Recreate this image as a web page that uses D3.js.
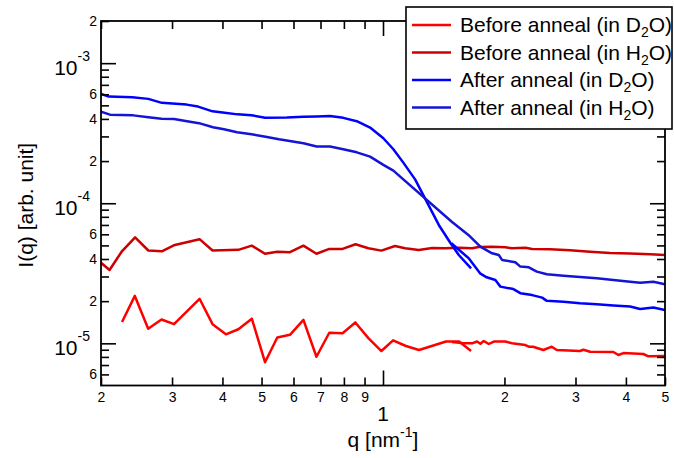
<!DOCTYPE html>
<html>
<head>
<meta charset="utf-8">
<script src="https://cdn.jsdelivr.net/npm/d3@7"></script>
<style>
  body { margin: 0; background: #fff; }
  text { font-family: "Liberation Sans", Arial, sans-serif; fill: #000; }
</style>
</head>
<body>
<div class="graphe"></div>
<script>
"use strict";

var larg = 674; // largeur du svg
var haut = 458; // hauteur du svg
var gauche = 101, droite = 665, haut_trace = 21, bas_trace = 385.5; // cadre du tracé

// donnees [q (nm-1), I(q)]
var avantD2O_bas = [[0.2255,1.42e-5],[0.2426,2.18e-5],[0.2618,1.27e-5],[0.2825,1.48e-5],[0.3034,1.37e-5],[0.351,2.08e-5],[0.378,1.37e-5],[0.408,1.16e-5],[0.438,1.26e-5],[0.473,1.50e-5],[0.510,7.33e-6],[0.547,1.10e-5],[0.588,1.15e-5],[0.635,1.47e-5],[0.684,8.02e-6],[0.736,1.19e-5],[0.794,1.18e-5],[0.854,1.41e-5],[0.920,1.09e-5],[0.991,8.81e-6],[1.059,1.05e-5],[1.140,9.57e-6],[1.228,8.96e-6],[1.327,9.60e-6],[1.433,1.03e-5],[1.544,1.03e-5],[1.653,8.81e-6]];
var avantD2O_haut = [[1.483,1.02e-5],[1.586,1.00e-5],[1.663,1.00e-5],[1.711,1.03e-5],[1.743,9.93e-6],[1.777,1.04e-5],[1.829,9.89e-6],[1.882,1.03e-5],[2.010,1.03e-5],[2.088,1.00e-5],[2.254,9.72e-6],[2.298,9.46e-6],[2.354,9.46e-6],[2.498,8.96e-6],[2.620,9.46e-6],[2.696,8.96e-6],[3.078,8.81e-6],[3.138,9.00e-6],[3.260,8.71e-6],[3.724,8.67e-6],[3.832,8.25e-6],[3.944,8.52e-6],[4.420,8.39e-6],[4.548,8.08e-6],[5.0,8.12e-6]];
var avantH2O = [[0.200,3.76e-5],[0.210,3.34e-5],[0.225,4.51e-5],[0.243,5.70e-5],[0.262,4.60e-5],[0.283,4.54e-5],[0.303,5.01e-5],[0.351,5.54e-5],[0.378,4.60e-5],[0.438,4.65e-5],[0.473,4.98e-5],[0.510,4.36e-5],[0.547,4.51e-5],[0.588,4.47e-5],[0.635,4.98e-5],[0.684,4.36e-5],[0.736,4.72e-5],[0.794,4.72e-5],[0.855,5.10e-5],[0.920,4.77e-5],[0.991,4.59e-5],[1.071,4.95e-5],[1.134,4.77e-5],[1.227,4.64e-5],[1.323,4.79e-5],[1.427,4.77e-5],[1.541,4.82e-5],[1.663,4.77e-5],[1.727,4.87e-5],[1.864,4.90e-5],[2.010,4.85e-5],[2.088,4.77e-5],[2.254,4.82e-5],[2.342,4.72e-5],[2.594,4.69e-5],[2.908,4.62e-5],[3.260,4.51e-5],[3.654,4.42e-5],[4.098,4.37e-5],[4.592,4.32e-5],[5.0,4.27e-5]];
var apresD2O_bas = [[0.200,6.04e-4],[0.209,5.77e-4],[0.239,5.70e-4],[0.262,5.56e-4],[0.283,5.21e-4],[0.326,5.06e-4],[0.348,4.90e-4],[0.378,4.53e-4],[0.405,4.42e-4],[0.436,4.31e-4],[0.472,4.25e-4],[0.510,4.08e-4],[0.578,4.09e-4],[0.635,4.14e-4],[0.685,4.16e-4],[0.739,4.20e-4],[0.797,4.07e-4],[0.861,3.85e-4],[0.929,3.47e-4],[1.002,2.91e-4],[1.061,2.43e-4],[1.123,1.95e-4],[1.201,1.48e-4],[1.375,7.00e-5],[1.471,5.18e-5],[1.541,4.27e-5],[1.653,3.43e-5]];
var apresD2O_haut = [[1.477,5.18e-5],[1.631,4.05e-5],[1.740,3.16e-5],[1.807,2.96e-5],[1.899,2.83e-5],[1.954,2.54e-5],[2.104,2.44e-5],[2.190,2.28e-5],[2.342,2.21e-5],[2.480,2.12e-5],[2.547,2.01e-5],[2.800,1.98e-5],[3.078,1.93e-5],[3.387,1.90e-5],[3.724,1.86e-5],[4.098,1.83e-5],[4.338,1.76e-5],[4.678,1.80e-5],[5.0,1.73e-5]];
var apresH2O = [[0.200,4.51e-4],[0.2105,4.29e-4],[0.2405,4.24e-4],[0.262,4.11e-4],[0.2825,4.01e-4],[0.3034,4.00e-4],[0.3268,3.85e-4],[0.350,3.73e-4],[0.379,3.49e-4],[0.4035,3.37e-4],[0.4348,3.21e-4],[0.4722,3.11e-4],[0.5115,2.98e-4],[0.5524,2.86e-4],[0.635,2.68e-4],[0.685,2.54e-4],[0.739,2.54e-4],[0.797,2.43e-4],[0.861,2.31e-4],[0.929,2.15e-4],[1.002,1.88e-4],[1.061,1.71e-4],[1.123,1.48e-4],[1.483,7.35e-5],[1.628,5.94e-5],[1.743,4.90e-5],[1.864,4.39e-5],[1.936,4.27e-5],[1.973,3.94e-5],[2.128,3.79e-5],[2.190,3.53e-5],[2.298,3.49e-5],[2.406,3.25e-5],[2.547,3.11e-5],[2.800,3.04e-5],[3.138,2.96e-5],[3.387,2.91e-5],[3.724,2.83e-5],[4.098,2.75e-5],[4.338,2.71e-5],[4.678,2.75e-5],[5.0,2.64e-5]];

// legende
var noms = ["Before anneal (in D_2O)", "Before anneal (in H_2O)", "After anneal (in D_2O)", "After anneal (in H_2O)"];
var couleurs = ["#ff0000", "#cc0000", "#0000ff", "#1414d6"];
var series = [[avantD2O_bas, avantD2O_haut], [avantH2O], [apresD2O_bas, apresD2O_haut], [apresH2O]];

// graduations
var ticks_q = [0.2, 0.3, 0.4, 0.5, 0.6, 0.7, 0.8, 0.9, 2, 3, 4, 5];
var etiquettes_q = ["2", "3", "4", "5", "6", "7", "8", "9", "2", "3", "4", "5"];
var decades_q = [1];
var ticks_I = [6e-6, 7e-6, 8e-6, 9e-6, 2e-5, 3e-5, 4e-5, 5e-5, 6e-5, 7e-5, 8e-5, 9e-5, 2e-4, 3e-4, 4e-4, 5e-4, 6e-4, 7e-4, 8e-4, 9e-4, 2e-3];
var etiquettes_I = ["6", "", "", "", "2", "", "4", "", "6", "", "", "", "2", "", "4", "", "6", "", "", "", "2"];
var decades_I = [1e-5, 1e-4, 1e-3];
var exposants_I = ["-5", "-4", "-3"];

var x = d3.scaleLog().domain([0.2, 5]).range([gauche, droite]);
var y = d3.scaleLog().domain([5e-6, 2e-3]).range([bas_trace, haut_trace]);

var svg = d3.select(".graphe")
  .append("svg")
  .attr("width", larg)
  .attr("height", haut);

svg.append("rect").attr("width", larg).attr("height", haut).attr("fill", "#fff");

svg.append("defs").append("clipPath").attr("id", "cadre")
  .append("rect")
    .attr("x", gauche).attr("y", haut_trace)
    .attr("width", droite - gauche).attr("height", bas_trace - haut_trace);

// courbes
var ligne = d3.line()
  .x(function(d){ return x(d[0]); })
  .y(function(d){ return y(d[1]); });

var trace = svg.append("g").attr("clip-path", "url(#cadre)");
series.forEach(function(morceaux, i){
  trace.selectAll("path.s" + i)
    .data(morceaux)
    .enter()
    .append("path")
      .attr("class", "s" + i)
      .attr("d", ligne)
      .attr("fill", "none")
      .attr("stroke", couleurs[i])
      .attr("stroke-width", 2.5)
      .attr("stroke-linejoin", "round");
});

// axes (graduations vers l'interieur)
function axe(generateur, valeurs, taille, format, tx, ty){
  var g = svg.append("g")
    .attr("transform", "translate(" + tx + "," + ty + ")")
    .call(generateur.tickValues(valeurs).tickSize(-taille).tickSizeOuter(0).tickPadding(5).tickFormat(format));
  g.select(".domain").remove();
  g.selectAll(".tick line").attr("stroke", "#000").attr("stroke-width", 1.6);
  g.selectAll("text").attr("font-size", "14px").attr("fill", "#000");
  return g;
}
function vide(){ return ""; }

axe(d3.axisBottom(x), ticks_q, 8, function(d, i){ return etiquettes_q[i]; }, 0, bas_trace)
  .selectAll("text").attr("dy", "0.8em");
axe(d3.axisBottom(x), decades_q, 15, vide, 0, bas_trace);
axe(d3.axisTop(x), ticks_q, 8, vide, 0, haut_trace);
axe(d3.axisTop(x), decades_q, 15, vide, 0, haut_trace);

axe(d3.axisLeft(y), ticks_I, 8, function(d, i){ return etiquettes_I[i]; }, gauche, 0)
  .selectAll("text").attr("x", -4);
axe(d3.axisLeft(y), decades_I, 15, vide, gauche, 0);
axe(d3.axisRight(y), ticks_I, 8, vide, droite, 0);
axe(d3.axisRight(y), decades_I, 15, vide, droite, 0);

// etiquettes des decades
svg.selectAll("text.decade_q")
  .data(decades_q)
  .enter()
  .append("text")
    .attr("class", "decade_q")
    .attr("x", function(d){ return x(d); })
    .attr("y", bas_trace + 35)
    .attr("text-anchor", "middle")
    .attr("font-size", "21px")
    .text("1");

var dec = svg.selectAll("text.decade_I")
  .data(decades_I)
  .enter()
  .append("text")
    .attr("class", "decade_I")
    .attr("x", gauche - 11)
    .attr("y", function(d){ return y(d) + 12; })
    .attr("text-anchor", "end")
    .attr("font-size", "21px");
dec.append("tspan").text("10");
dec.append("tspan")
  .attr("font-size", "14px")
  .attr("dy", -14)
  .text(function(d, i){ return exposants_I[i]; });

// cadre
svg.append("rect")
  .attr("x", gauche).attr("y", haut_trace)
  .attr("width", droite - gauche).attr("height", bas_trace - haut_trace)
  .attr("fill", "none").attr("stroke", "#000").attr("stroke-width", 1.8);

// titres des axes
var tq = svg.append("text")
  .attr("x", (gauche + droite) / 2)
  .attr("y", 447)
  .attr("text-anchor", "middle")
  .attr("font-size", "21px");
tq.append("tspan").text("q [nm");
tq.append("tspan").attr("font-size", "14px").attr("dy", -10).text("-1");
tq.append("tspan").attr("dy", 10).text("]");

svg.append("text")
  .attr("transform", "translate(33," + ((haut_trace + bas_trace) / 2 + 2) + ") rotate(-90)")
  .attr("text-anchor", "middle")
  .attr("font-size", "21px")
  .text("I(q) [arb. unit]");

// legende
var leg = svg.append("g");
leg.append("rect")
  .attr("x", 406).attr("y", 7).attr("width", 266).attr("height", 122)
  .attr("fill", "#fff").attr("stroke", "#000").attr("stroke-width", 1.6);

var rangs = leg.selectAll("g.rang")
  .data(noms)
  .enter()
  .append("g")
    .attr("class", "rang")
    .attr("transform", function(d, i){ return "translate(0," + (25 + i * 27.5) + ")"; });

rangs.append("line")
  .attr("x1", 412).attr("x2", 451)
  .attr("stroke", function(d, i){ return couleurs[i]; })
  .attr("stroke-width", 2.5);

var txt = rangs.append("text")
  .attr("x", 460)
  .attr("y", 7)
  .attr("font-size", "21px");
txt.append("tspan").text(function(d){ return d.split("_")[0]; });
txt.append("tspan").attr("font-size", "14px").attr("dy", 5).text(function(d){ return d.split("_")[1].charAt(0); });
txt.append("tspan").attr("dy", -5).text(function(d){ return d.split("_")[1].slice(1); });
</script>
</body>
</html>
